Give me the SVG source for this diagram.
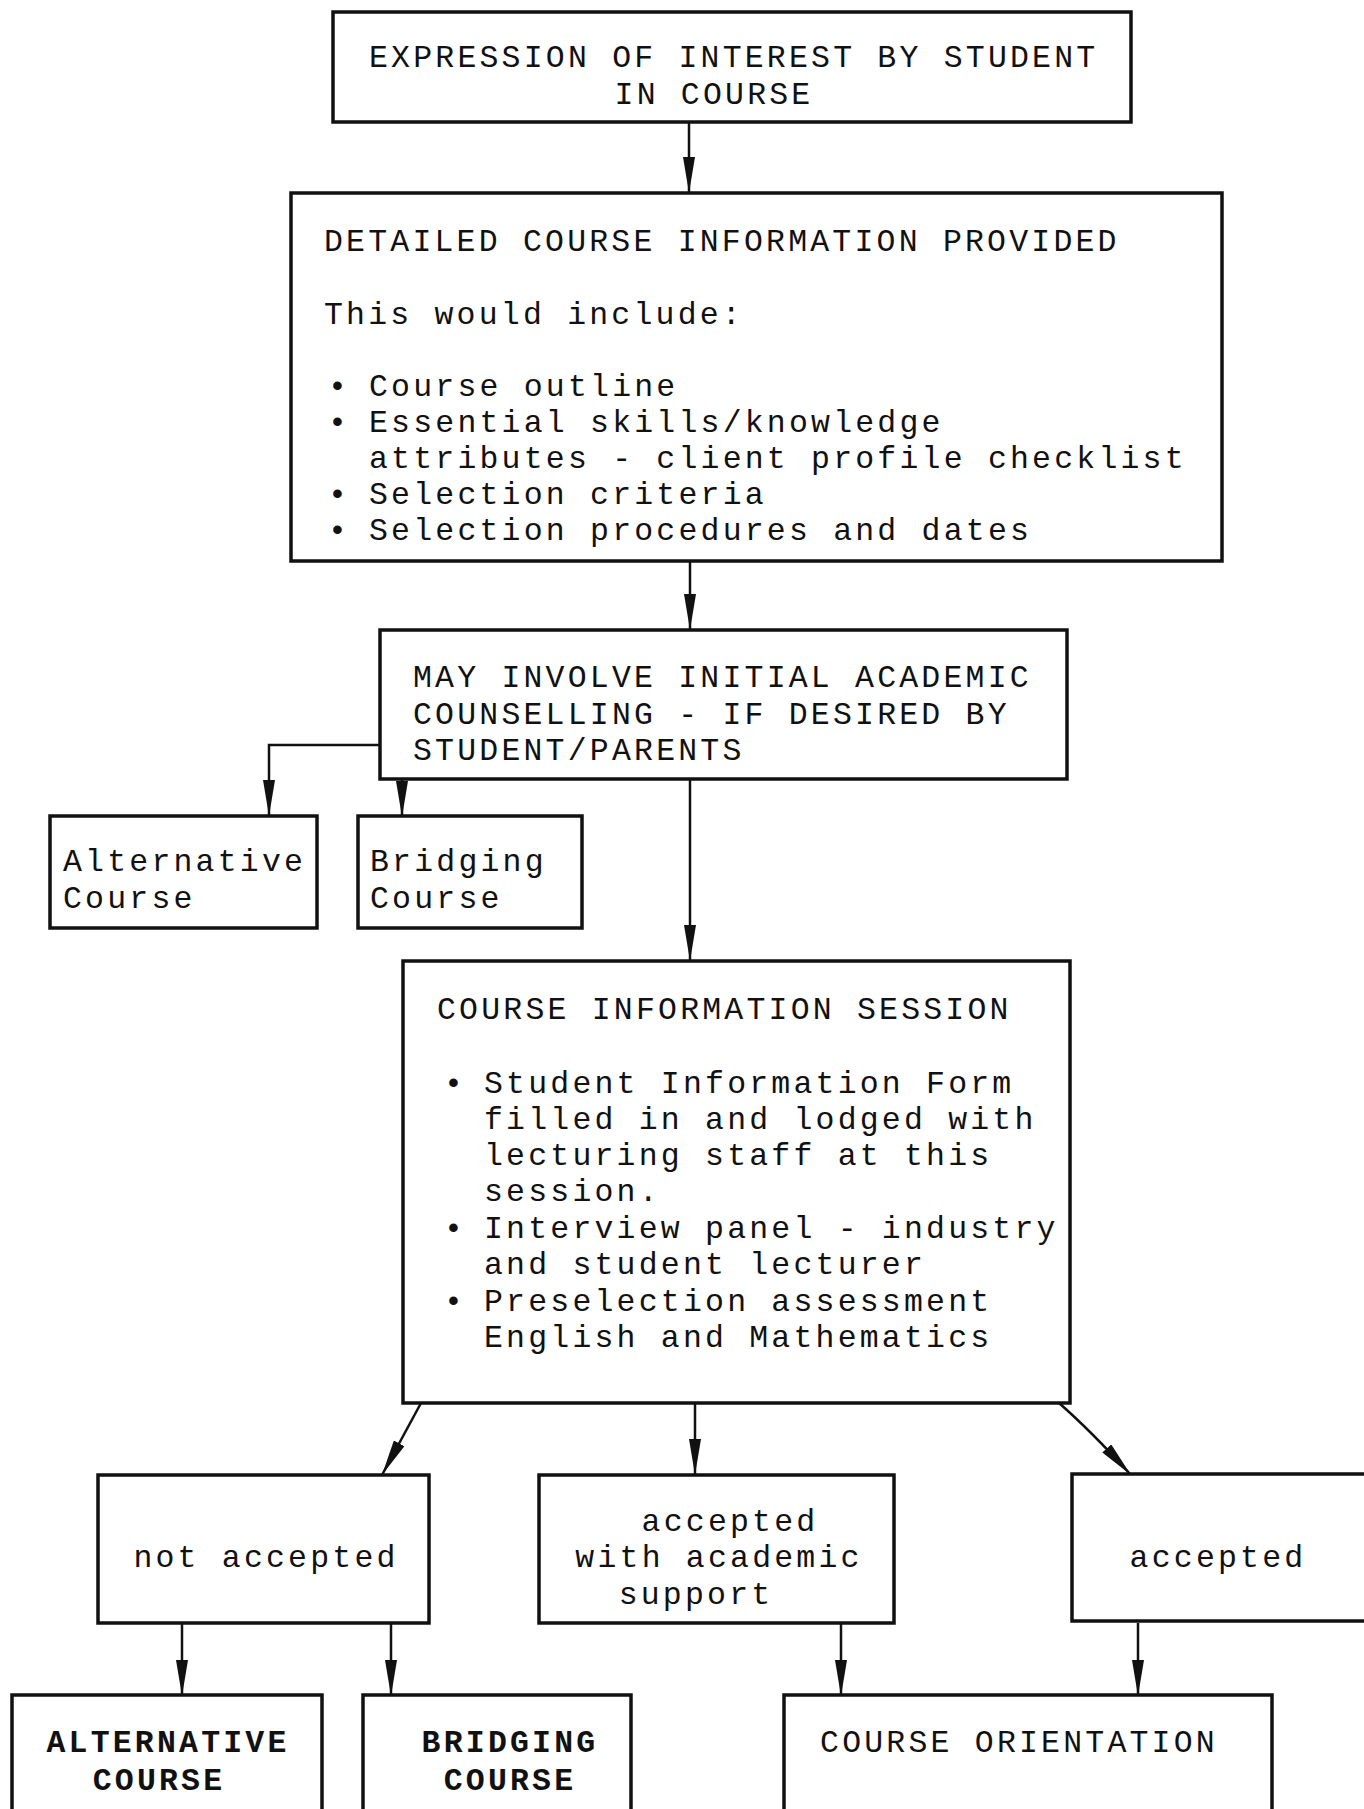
<svg xmlns="http://www.w3.org/2000/svg" width="1364" height="1809" viewBox="0 0 1364 1809">
<style>
.box{fill:#fff;stroke:#111;stroke-width:3.5}
.t{font-family:"Liberation Mono","DejaVu Sans Mono",monospace;font-size:31.5px;letter-spacing:3.2px;fill:#111}
.b{font-weight:bold}
.c{fill:none;stroke:#111;stroke-width:2.5}
</style>
<defs>
<marker id="ah" viewBox="0 0 36 12" refX="36" refY="6" markerWidth="36" markerHeight="12" markerUnits="userSpaceOnUse" orient="auto">
<path d="M0,0 L36,6 L0,12 z" fill="#111"/>
</marker>
</defs>
<rect width="1364" height="1809" fill="#fff"/>
<g id="connectors">
<line class="c" x1="689" y1="122" x2="689" y2="193" marker-end="url(#ah)"/>
<line class="c" x1="690" y1="561" x2="690" y2="630" marker-end="url(#ah)"/>
<polyline class="c" points="380,745 269,745 269,816" marker-end="url(#ah)"/>
<line class="c" x1="402" y1="779" x2="402" y2="817" marker-end="url(#ah)"/>
<line class="c" x1="690" y1="779" x2="690" y2="961" marker-end="url(#ah)"/>
<line class="c" x1="421" y1="1403" x2="382" y2="1475" marker-end="url(#ah)"/>
<line class="c" x1="695" y1="1403" x2="695" y2="1475" marker-end="url(#ah)"/>
<path class="c" d="M1059,1403 Q1090,1430 1131,1475" marker-end="url(#ah)"/>
<line class="c" x1="182" y1="1623" x2="182" y2="1696" marker-end="url(#ah)"/>
<line class="c" x1="391" y1="1623" x2="391" y2="1696" marker-end="url(#ah)"/>
<line class="c" x1="841" y1="1623" x2="841" y2="1696" marker-end="url(#ah)"/>
<line class="c" x1="1138" y1="1623" x2="1138" y2="1696" marker-end="url(#ah)"/>
</g>
<g id="n1">
<rect class="box" x="333" y="12" width="798" height="110"/>
<text class="t" x="369" y="67">EXPRESSION OF INTEREST BY STUDENT</text>
<text class="t" x="714" y="104" text-anchor="middle">IN COURSE</text>
</g>
<g id="n2">
<rect class="box" x="291" y="193" width="931" height="368"/>
<text class="t" x="324" y="251">DETAILED COURSE INFORMATION PROVIDED</text>
<text class="t" x="324" y="324">This would include:</text>
<text class="t" x="328" y="396">•</text>
<text class="t" x="369" y="396">Course outline</text>
<text class="t" x="328" y="432">•</text>
<text class="t" x="369" y="432">Essential skills/knowledge</text>
<text class="t" x="369" y="468">attributes - client profile checklist</text>
<text class="t" x="328" y="504">•</text>
<text class="t" x="369" y="504">Selection criteria</text>
<text class="t" x="328" y="540">•</text>
<text class="t" x="369" y="540">Selection procedures and dates</text>
</g>
<g id="n3">
<rect class="box" x="380" y="630" width="687" height="149"/>
<text class="t" x="413" y="687">MAY INVOLVE INITIAL ACADEMIC</text>
<text class="t" x="413" y="724">COUNSELLING - IF DESIRED BY</text>
<text class="t" x="413" y="760">STUDENT/PARENTS</text>
</g>
<g id="n4">
<rect class="box" x="50" y="816" width="267" height="112"/>
<text class="t" x="63" y="871">Alternative</text>
<text class="t" x="63" y="908">Course</text>
</g>
<g id="n5">
<rect class="box" x="358" y="816" width="224" height="112"/>
<text class="t" x="370" y="871">Bridging</text>
<text class="t" x="370" y="908">Course</text>
</g>
<g id="n6">
<rect class="box" x="403" y="961" width="667" height="442"/>
<text class="t" x="437" y="1019">COURSE INFORMATION SESSION</text>
<text class="t" x="444" y="1093">•</text>
<text class="t" x="484" y="1093">Student Information Form</text>
<text class="t" x="484" y="1129">filled in and lodged with</text>
<text class="t" x="484" y="1165">lecturing staff at this</text>
<text class="t" x="484" y="1201">session.</text>
<text class="t" x="444" y="1238">•</text>
<text class="t" x="484" y="1238">Interview panel - industry</text>
<text class="t" x="484" y="1274">and student lecturer</text>
<text class="t" x="444" y="1311">•</text>
<text class="t" x="484" y="1311">Preselection assessment</text>
<text class="t" x="484" y="1347">English and Mathematics</text>
</g>
<g id="n7">
<rect class="box" x="98" y="1475" width="331" height="148"/>
<text class="t" x="266" y="1567" text-anchor="middle">not accepted</text>
</g>
<g id="n8">
<rect class="box" x="539" y="1475" width="355" height="148"/>
<text class="t" x="730" y="1531" text-anchor="middle">accepted</text>
<text class="t" x="719" y="1567" text-anchor="middle">with academic</text>
<text class="t" x="696" y="1604" text-anchor="middle">support</text>
</g>
<g id="n9">
<rect class="box" x="1072" y="1474" width="300" height="147"/>
<text class="t" x="1218" y="1567" text-anchor="middle">accepted</text>
</g>
<g id="n10">
<rect class="box" x="12" y="1695" width="310" height="130"/>
<text class="t b" x="168" y="1752" text-anchor="middle">ALTERNATIVE</text>
<text class="t b" x="159" y="1790" text-anchor="middle">COURSE</text>
</g>
<g id="n11">
<rect class="box" x="363" y="1695" width="268" height="130"/>
<text class="t b" x="510" y="1752" text-anchor="middle">BRIDGING</text>
<text class="t b" x="510" y="1790" text-anchor="middle">COURSE</text>
</g>
<g id="n12">
<rect class="box" x="784" y="1695" width="488" height="130"/>
<text class="t" x="1019" y="1752" text-anchor="middle">COURSE ORIENTATION</text>
</g>
</svg>
